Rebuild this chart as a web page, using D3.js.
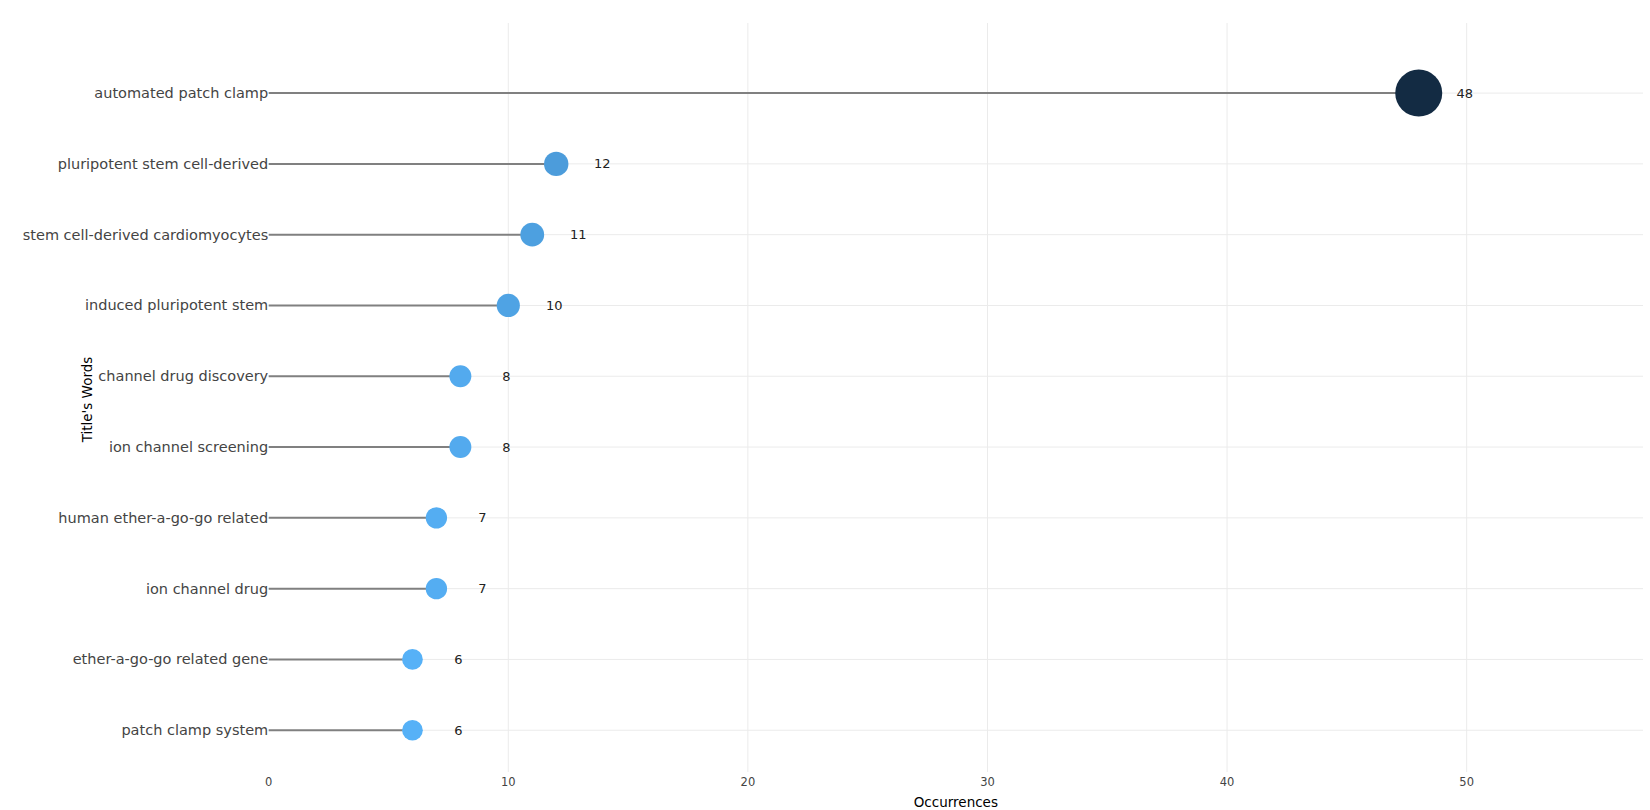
<!DOCTYPE html>
<html>
<head>
<meta charset="utf-8">
<script src="https://cdn.jsdelivr.net/npm/d3@7"></script>
<style>
  html, body { margin: 0; padding: 0; background: #fff; }
  svg { display: block; }
</style>
</head>
<body>
<svg id="chart" width="1650" height="810"></svg>
<script>
const categories = [
  "automated patch clamp",
  "pluripotent stem cell-derived",
  "stem cell-derived cardiomyocytes",
  "induced pluripotent stem",
  "channel drug discovery",
  "ion channel screening",
  "human ether-a-go-go related",
  "ion channel drug",
  "ether-a-go-go related gene",
  "patch clamp system"
];
const occurrences = [48, 12, 11, 10, 8, 8, 7, 7, 6, 6];
const xTicks = [0, 10, 20, 30, 40, 50];
const xTitle = "Occurrences";
const yTitle = "Title's Words";

const svg = d3.select("#chart");
const plot = { left: 268.7, right: 1643, top: 23, bottom: 772 };

const x = d3.scaleLinear().domain([0, 57.36]).range([plot.left, plot.right]);
const y = d3.scaleLinear().domain([-0.99, 9.59]).range([plot.top, plot.bottom]);
const r = d3.scaleLinear().domain([6, 48]).range([10.35, 23.5]);
const color = d3.scaleLinear().domain([6, 48]).range(["#56B1F7", "#132B43"]).interpolate(d3.interpolateLab);

const data = categories.map((c, i) => ({ cat: c, i, v: occurrences[i] }));
const font = "'DejaVu Sans', Verdana, sans-serif";

// grid
const grid = svg.append("g");
grid.selectAll("line.v").data(xTicks.filter(t => t !== 0)).join("line")
  .attr("x1", d => x(d)).attr("x2", d => x(d))
  .attr("y1", plot.top).attr("y2", plot.bottom)
  .attr("stroke", "#ebebeb").attr("stroke-width", 1);
grid.selectAll("line.h").data(data).join("line")
  .attr("x1", plot.left).attr("x2", plot.right)
  .attr("y1", d => y(d.i)).attr("y2", d => y(d.i))
  .attr("stroke", "#ebebeb").attr("stroke-width", 1);

// stems
svg.append("g").selectAll("line").data(data).join("line")
  .attr("x1", x(0)).attr("x2", d => x(d.v))
  .attr("y1", d => y(d.i)).attr("y2", d => y(d.i))
  .attr("stroke", "#808080").attr("stroke-width", 2);

// points
svg.append("g").selectAll("circle").data(data).join("circle")
  .attr("cx", d => x(d.v)).attr("cy", d => y(d.i))
  .attr("r", d => r(d.v))
  .attr("fill", d => color(d.v));

// value labels
svg.append("g").selectAll("text").data(data).join("text")
  .attr("x", d => x(d.v) + 46).attr("y", d => y(d.i))
  .attr("text-anchor", "middle").attr("dominant-baseline", "central")
  .attr("font-family", font).attr("font-size", 13).attr("fill", "#222")
  .text(d => d.v);

// y category labels
svg.append("g").selectAll("text").data(data).join("text")
  .attr("x", plot.left - 0.5).attr("y", d => y(d.i))
  .attr("text-anchor", "end").attr("dominant-baseline", "central")
  .attr("font-family", font).attr("font-size", 14.5).attr("fill", "#444")
  .text(d => d.cat);

// x tick labels
svg.append("g").selectAll("text").data(xTicks).join("text")
  .attr("x", d => x(d)).attr("y", 782)
  .attr("text-anchor", "middle").attr("dominant-baseline", "central")
  .attr("font-family", font).attr("font-size", 11.5).attr("fill", "#444")
  .text(d => d);

// axis titles
svg.append("text")
  .attr("x", (plot.left + plot.right) / 2).attr("y", 802)
  .attr("text-anchor", "middle").attr("dominant-baseline", "central")
  .attr("font-family", font).attr("font-size", 13.5).attr("fill", "#000")
  .text(xTitle);
svg.append("text")
  .attr("transform", `translate(87, ${(plot.top + plot.bottom) / 2 + 2}) rotate(-90)`)
  .attr("text-anchor", "middle").attr("dominant-baseline", "central")
  .attr("font-family", font).attr("font-size", 13.5).attr("fill", "#000")
  .text(yTitle);
</script>
</body>
</html>
